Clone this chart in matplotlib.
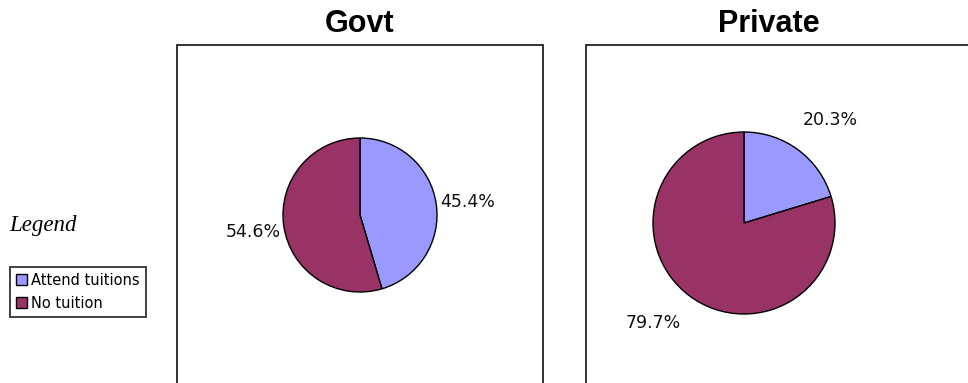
import matplotlib
matplotlib.use("Agg")
import matplotlib.pyplot as plt

# data
groups = ["Govt", "Private"]
categories = ["Attend tuitions", "No tuition"]
govt_values = [45.4, 54.6]
private_values = [20.3, 79.7]
colors = ["#9999FF", "#993366"]

W, H = 968, 383

def py(y):
    # pixel row (from top) -> data y (from bottom)
    return H - y

fig = plt.figure(figsize=(W / 100, H / 100), dpi=100)
ax = fig.add_axes([0, 0, 1, 1])

# panel layout: box left/right, pie centre, radius, label positions
panels = [
    dict(box=(177, 543), title_x=360, cx=360, cy=215, r=77,
         label_pos=[(440, 202, "left"), (281, 232, "right")]),
    dict(box=(586, 990), title_x=769, cx=744, cy=223, r=91,
         label_pos=[(803, 120, "left"), (626, 323, "left")]),
]

wedges_first = None
for name, vals, p in zip(groups, [govt_values, private_values], panels):
    x0, x1 = p["box"]
    ax.plot([x0, x0, x1, x1], [py(H + 5), py(45), py(45), py(H + 5)],
            color="#222222", lw=1.3, solid_joinstyle="miter")
    ax.text(p["title_x"], py(24), name, ha="center", va="center",
            fontsize=22, fontweight="bold", family="Liberation Sans")
    wedges, _ = ax.pie(vals, colors=colors, startangle=90, counterclock=False,
                       center=(p["cx"], py(p["cy"])), radius=p["r"],
                       wedgeprops=dict(edgecolor="black", linewidth=1.0),
                       frame=True)
    if wedges_first is None:
        wedges_first = wedges
    for v, (lx, ly, ha) in zip(vals, p["label_pos"]):
        ax.text(lx, py(ly), f"{v:.1f}%", ha=ha, va="center",
                fontsize=12.5, family="DejaVu Sans", color="#111111")

ax.text(9, py(226), "Legend", ha="left", va="center", fontsize=16.5,
        style="italic", family="Liberation Serif")

leg = fig.legend(wedges_first, categories, loc="upper left",
                 bbox_to_anchor=(10 / W, 1 - 267 / H), borderaxespad=0,
                 frameon=True, fancybox=False, borderpad=0.4,
                 handlelength=0.75, handleheight=0.75, handletextpad=0.3,
                 labelspacing=0.55, prop=dict(family="DejaVu Sans", size=10.5))
leg.get_frame().set_edgecolor("black")
leg.get_frame().set_linewidth(1.3)

ax.set_xlim(0, W)
ax.set_ylim(0, H)
ax.set_aspect("equal")
ax.set_axis_off()

fig.savefig("out.png", dpi=100)
